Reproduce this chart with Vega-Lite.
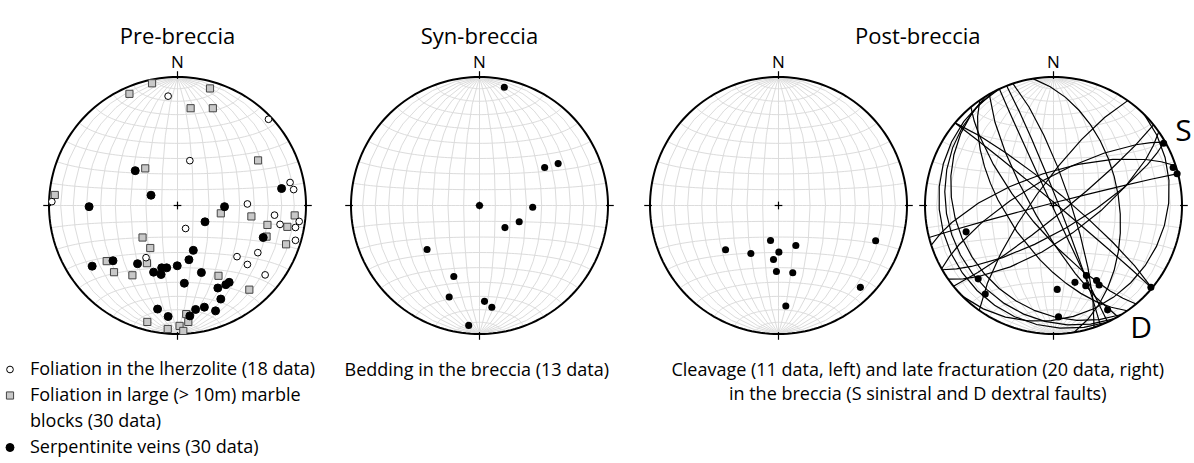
{
  "$schema": "https://vega.github.io/schema/vega-lite/v6.json",
  "padding": {"left": 1, "top": 26, "right": 0, "bottom": 0},
  "config": {
    "view": {"stroke": null},
    "font": "Open Sans",
    "title": {"font": "Open Sans", "fontSize": 22, "fontWeight": "normal", "color": "black", "offset": 5, "anchor": "middle", "frame": "bounds"},
    "text": {"font": "Open Sans", "color": "black"}
  },
  "resolve": {"scale": {"shape": "independent", "fill": "independent", "stroke": "independent", "size": "independent"}, "legend": {"shape": "independent", "fill": "independent", "stroke": "independent", "size": "independent"}},
  "datasets": {
    "net": [
      {"x": 0, "y": 0.985, "x2": 0, "y2": 1.045},
      {"x": 0, "y": -0.985, "x2": 0, "y2": -1.045},
      {"x": 0.985, "y": 0, "x2": 1.045, "y2": 0},
      {"x": -0.985, "y": 0, "x2": -1.045, "y2": 0},
      {"x": -0.03, "y": 0, "x2": 0.03, "y2": 0},
      {"x": 0, "y": -0.03, "x2": 0, "y2": 0.03}
    ],
    "north": [{"label": "N", "x": 0, "y": 1}],
    "pre": [
      {"type": "marble", "x": -0.198, "y": 0.951}, {"type": "marble", "x": -0.374, "y": 0.869}, {"type": "marble", "x": -0.251, "y": 0.289},
      {"type": "marble", "x": -0.955, "y": 0.082}, {"type": "marble", "x": 0.253, "y": 0.911}, {"type": "marble", "x": 0.102, "y": 0.757},
      {"type": "marble", "x": 0.275, "y": 0.757}, {"type": "marble", "x": 0.627, "y": 0.351}, {"type": "marble", "x": -0.272, "y": -0.249},
      {"type": "marble", "x": -0.212, "y": -0.331}, {"type": "marble", "x": -0.238, "y": -0.449}, {"type": "marble", "x": -0.551, "y": -0.433},
      {"type": "marble", "x": -0.494, "y": -0.519}, {"type": "marble", "x": -0.351, "y": -0.543}, {"type": "marble", "x": -0.235, "y": -0.906},
      {"type": "marble", "x": -0.076, "y": -0.961}, {"type": "marble", "x": 0.337, "y": -0.061}, {"type": "marble", "x": 0.575, "y": -0.085},
      {"type": "marble", "x": 0.7, "y": -0.151}, {"type": "marble", "x": 0.855, "y": -0.166}, {"type": "marble", "x": 0.912, "y": -0.077},
      {"type": "marble", "x": 0.693, "y": -0.242}, {"type": "marble", "x": 0.845, "y": -0.302}, {"type": "marble", "x": 0.319, "y": -0.547},
      {"type": "marble", "x": 0.559, "y": -0.655}, {"type": "marble", "x": 0.068, "y": -0.845}, {"type": "marble", "x": 0.084, "y": -0.906},
      {"type": "marble", "x": 0.016, "y": -0.937}, {"type": "marble", "x": 0.045, "y": -0.976},
      {"type": "lherzolite", "x": -0.073, "y": 0.851}, {"type": "lherzolite", "x": 0.708, "y": 0.671}, {"type": "lherzolite", "x": 0.096, "y": 0.349},
      {"type": "lherzolite", "x": 0.876, "y": 0.179}, {"type": "lherzolite", "x": 0.904, "y": 0.124}, {"type": "lherzolite", "x": -0.978, "y": 0.03},
      {"type": "lherzolite", "x": -0.245, "y": -0.406}, {"type": "lherzolite", "x": 0.544, "y": 0.012}, {"type": "lherzolite", "x": 0.063, "y": -0.179},
      {"type": "lherzolite", "x": 0.755, "y": -0.075}, {"type": "lherzolite", "x": 0.798, "y": -0.147}, {"type": "lherzolite", "x": 0.947, "y": -0.124},
      {"type": "lherzolite", "x": 0.918, "y": -0.171}, {"type": "lherzolite", "x": 0.918, "y": -0.271}, {"type": "lherzolite", "x": 0.463, "y": -0.398},
      {"type": "lherzolite", "x": 0.625, "y": -0.367}, {"type": "lherzolite", "x": 0.544, "y": -0.459}, {"type": "lherzolite", "x": 0.682, "y": -0.54},
      {"type": "serpentinite", "x": -0.329, "y": 0.271}, {"type": "serpentinite", "x": -0.206, "y": 0.08}, {"type": "serpentinite", "x": 0.81, "y": 0.132},
      {"type": "serpentinite", "x": -0.688, "y": -0.009}, {"type": "serpentinite", "x": -0.311, "y": -0.453}, {"type": "serpentinite", "x": -0.502, "y": -0.43},
      {"type": "serpentinite", "x": -0.664, "y": -0.472}, {"type": "serpentinite", "x": -0.186, "y": -0.519}, {"type": "serpentinite", "x": -0.128, "y": -0.537},
      {"type": "serpentinite", "x": -0.123, "y": -0.485}, {"type": "serpentinite", "x": -0.084, "y": -0.485}, {"type": "serpentinite", "x": -0.002, "y": -0.469},
      {"type": "serpentinite", "x": -0.155, "y": -0.806}, {"type": "serpentinite", "x": -0.073, "y": -0.864}, {"type": "serpentinite", "x": 0.366, "y": -0.009},
      {"type": "serpentinite", "x": 0.214, "y": -0.127}, {"type": "serpentinite", "x": 0.667, "y": -0.249}, {"type": "serpentinite", "x": 0.123, "y": -0.349},
      {"type": "serpentinite", "x": 0.089, "y": -0.422}, {"type": "serpentinite", "x": 0.186, "y": -0.522}, {"type": "serpentinite", "x": 0.053, "y": -0.605},
      {"type": "serpentinite", "x": 0.402, "y": -0.598}, {"type": "serpentinite", "x": 0.376, "y": -0.616}, {"type": "serpentinite", "x": 0.314, "y": -0.642},
      {"type": "serpentinite", "x": 0.337, "y": -0.728}, {"type": "serpentinite", "x": 0.296, "y": -0.82}, {"type": "serpentinite", "x": 0.209, "y": -0.791},
      {"type": "serpentinite", "x": 0.141, "y": -0.809}, {"type": "serpentinite", "x": 0.096, "y": -0.859}
    ],
    "syn": [
      {"x": 0.193, "y": 0.92}, {"x": 0.507, "y": 0.296}, {"x": 0.612, "y": 0.326}, {"x": 0, "y": 0},
      {"x": 0.414, "y": -0.013}, {"x": 0.309, "y": -0.126}, {"x": 0.198, "y": -0.172}, {"x": -0.408, "y": -0.342},
      {"x": -0.2, "y": -0.553}, {"x": -0.236, "y": -0.712}, {"x": 0.039, "y": -0.746}, {"x": 0.096, "y": -0.792}, {"x": -0.084, "y": -0.933}
    ],
    "cleavage": [
      {"x": -0.412, "y": -0.345}, {"x": -0.215, "y": -0.373}, {"x": -0.062, "y": -0.272}, {"x": 0.003, "y": -0.363},
      {"x": -0.039, "y": -0.42}, {"x": 0.135, "y": -0.311}, {"x": -0.016, "y": -0.513}, {"x": 0.111, "y": -0.523},
      {"x": 0.057, "y": -0.782}, {"x": 0.756, "y": -0.275}, {"x": 0.637, "y": -0.637}
    ],
    "striae": [
      {"x": 0.857, "y": 0.485}, {"x": 0.931, "y": 0.296}, {"x": 0.962, "y": 0.247}, {"x": -0.68, "y": -0.205},
      {"x": -0.586, "y": -0.571}, {"x": -0.531, "y": -0.689}, {"x": 0.029, "y": -0.653}, {"x": 0.039, "y": -0.867},
      {"x": 0.256, "y": -0.545}, {"x": 0.167, "y": -0.598}, {"x": 0.251, "y": -0.624}, {"x": 0.335, "y": -0.584},
      {"x": 0.355, "y": -0.618}, {"x": 0.421, "y": -0.812}, {"x": 0.758, "y": -0.637}
    ],
    "senses": [{"label": "S", "x": 1.012, "y": 0.569}, {"label": "D", "x": 0.682, "y": -0.961}],
    "faults": [
      {"type": "Feature", "properties": {"id": 1}, "geometry": {"type": "LineString", "coordinates": [[90, -40], [1.04, 1.24], [-90, 40]]}},
      {"type": "Feature", "properties": {"id": 2}, "geometry": {"type": "LineString", "coordinates": [[90, -40], [5.24, 6.2], [-90, 40]]}},
      {"type": "Feature", "properties": {"id": 3}, "geometry": {"type": "LineString", "coordinates": [[90, 45], [67.78, -42.79], [-90, -45]]}},
      {"type": "Feature", "properties": {"id": 4}, "geometry": {"type": "LineString", "coordinates": [[90, -65.1], [-0.73, -0.34], [-90, 65.1]]}},
      {"type": "Feature", "properties": {"id": 5}, "geometry": {"type": "LineString", "coordinates": [[90, -68.6], [3.02, 1.18], [-90, 68.6]]}},
      {"type": "Feature", "properties": {"id": 6}, "geometry": {"type": "LineString", "coordinates": [[90, -71.6], [10.25, 3.39], [-90, 71.6]]}},
      {"type": "Feature", "properties": {"id": 7}, "geometry": {"type": "LineString", "coordinates": [[90, -60], [-10.87, -6.21], [-90, 60]]}},
      {"type": "Feature", "properties": {"id": 8}, "geometry": {"type": "LineString", "coordinates": [[90, -55], [-24.12, -15.97], [-90, 55]]}},
      {"type": "Feature", "properties": {"id": 9}, "geometry": {"type": "LineString", "coordinates": [[90, -50], [-12.6, -10.37], [-90, 50]]}},
      {"type": "Feature", "properties": {"id": 10}, "geometry": {"type": "LineString", "coordinates": [[90, -80.8], [41.9, 6.17], [-90, 80.8]]}},
      {"type": "Feature", "properties": {"id": 11}, "geometry": {"type": "LineString", "coordinates": [[90, 14.4], [-0.4, 1.57], [-90, -14.4]]}},
      {"type": "Feature", "properties": {"id": 12}, "geometry": {"type": "LineString", "coordinates": [[90, 18], [-6.83, 20.11], [-90, -18]]}},
      {"type": "Feature", "properties": {"id": 13}, "geometry": {"type": "LineString", "coordinates": [[90, 29.5], [-8.6, 14.81], [-90, -29.5]]}},
      {"type": "Feature", "properties": {"id": 14}, "geometry": {"type": "LineString", "coordinates": [[90, 54.7], [-10.32, 7.24], [-90, -54.7]]}},
      {"type": "Feature", "properties": {"id": 15}, "geometry": {"type": "LineString", "coordinates": [[90, 38.9], [3.98, -4.92], [-90, -38.9]]}},
      {"type": "Feature", "properties": {"id": 16}, "geometry": {"type": "LineString", "coordinates": [[90, -58], [-60.15, -28.46], [-90, 58]]}},
      {"type": "Feature", "properties": {"id": 17}, "geometry": {"type": "LineString", "coordinates": [[90, -62], [-68.56, -26.33], [-90, 62]]}},
      {"type": "Feature", "properties": {"id": 18}, "geometry": {"type": "LineString", "coordinates": [[90, -65], [-75.67, -24.31], [-90, 65]]}},
      {"type": "Feature", "properties": {"id": 19}, "geometry": {"type": "LineString", "coordinates": [[90, 30], [8.3, -14.03], [-90, -30]]}},
      {"type": "Feature", "properties": {"id": 20}, "geometry": {"type": "LineString", "coordinates": [[90, 35], [12.53, -17.22], [-90, -35]]}}
    ]
  },
  "spacing": 28,
  "hconcat": [
    {
      "width": 257, "height": 257,
      "title": {"text": "Pre-breccia", "frame": "group"},
      "layer": [
        {"data": {"graticule": {"step": [10, 10], "extentMinor": [[-180, -90], [180, 90]]}}, "mark": {"type": "geoshape", "filled": false, "stroke": "#dcdcdc", "strokeWidth": 1}, "projection": {"type": "azimuthalEqualArea", "clipAngle": 90}},
        {"data": {"sphere": true}, "mark": {"type": "geoshape", "filled": false, "stroke": "black", "strokeWidth": 2}, "projection": {"type": "azimuthalEqualArea", "clipAngle": 90}},
        {"data": {"name": "net"}, "mark": {"type": "rule", "stroke": "black", "strokeWidth": 1.2},
         "encoding": {"x": {"field": "x", "type": "quantitative", "scale": {"domain": [-1, 1]}, "axis": null}, "y": {"field": "y", "type": "quantitative", "scale": {"domain": [-1, 1]}, "axis": null}, "x2": {"field": "x2"}, "y2": {"field": "y2"}}},
        {"data": {"name": "north"}, "mark": {"type": "text", "dy": -14, "fontSize": 17, "baseline": "middle"},
         "encoding": {"x": {"field": "x", "type": "quantitative", "scale": {"domain": [-1, 1]}, "axis": null}, "y": {"field": "y", "type": "quantitative", "scale": {"domain": [-1, 1]}, "axis": null}, "text": {"field": "label"}}},
        {"data": {"name": "pre"}, "mark": {"type": "point", "opacity": 1, "strokeWidth": 1},
         "encoding": {
           "x": {"field": "x", "type": "quantitative", "scale": {"domain": [-1, 1]}, "axis": null},
           "y": {"field": "y", "type": "quantitative", "scale": {"domain": [-1, 1]}, "axis": null},
           "shape": {"field": "type", "type": "nominal", "scale": {"domain": ["lherzolite", "marble", "blocks", "serpentinite"], "range": ["circle", "square", "square", "circle"]},
             "legend": {"orient": "none", "legendX": -48, "legendY": 283.5, "title": null, "direction": "vertical", "labelFont": "Open Sans", "labelFontSize": 18, "labelColor": "black", "labelLimit": 400, "labelOffset": 11, "rowPadding": 8, "padding": 0, "symbolStrokeWidth": 1,
               "labelExpr": "datum.label == 'lherzolite' ? 'Foliation in the lherzolite (18 data)' : datum.label == 'marble' ? 'Foliation in large (> 10m) marble' : datum.label == 'blocks' ? 'blocks (30 data)' : 'Serpentinite veins (30 data)'"}},
           "fill": {"field": "type", "type": "nominal", "scale": {"domain": ["lherzolite", "marble", "blocks", "serpentinite"], "range": ["white", "#c8c8c8", "transparent", "black"]}},
           "stroke": {"field": "type", "type": "nominal", "scale": {"domain": ["lherzolite", "marble", "blocks", "serpentinite"], "range": ["black", "#444444", "transparent", "black"]}},
           "size": {"field": "type", "type": "nominal", "scale": {"domain": ["lherzolite", "marble", "blocks", "serpentinite"], "range": [45, 64, 1, 50]}}
         }}
      ]
    },
    {
      "title": {"text": "Syn-breccia"},
      "vconcat": [
        {
          "width": 257, "height": 257,
          "title": {"text": "Bedding in the breccia (13 data)", "orient": "bottom", "fontSize": 18, "anchor": "start", "frame": "group", "dx": -6.5, "offset": 22},
          "layer": [
            {"data": {"graticule": {"step": [10, 10], "extentMinor": [[-180, -90], [180, 90]]}}, "mark": {"type": "geoshape", "filled": false, "stroke": "#dcdcdc", "strokeWidth": 1}, "projection": {"type": "azimuthalEqualArea", "clipAngle": 90}},
            {"data": {"sphere": true}, "mark": {"type": "geoshape", "filled": false, "stroke": "black", "strokeWidth": 2}, "projection": {"type": "azimuthalEqualArea", "clipAngle": 90}},
            {"data": {"name": "net"}, "mark": {"type": "rule", "stroke": "black", "strokeWidth": 1.2},
             "encoding": {"x": {"field": "x", "type": "quantitative", "scale": {"domain": [-1, 1]}, "axis": null}, "y": {"field": "y", "type": "quantitative", "scale": {"domain": [-1, 1]}, "axis": null}, "x2": {"field": "x2"}, "y2": {"field": "y2"}}},
            {"data": {"name": "north"}, "mark": {"type": "text", "dy": -14, "fontSize": 17, "baseline": "middle"},
             "encoding": {"x": {"field": "x", "type": "quantitative", "scale": {"domain": [-1, 1]}, "axis": null}, "y": {"field": "y", "type": "quantitative", "scale": {"domain": [-1, 1]}, "axis": null}, "text": {"field": "label"}}},
            {"data": {"name": "syn"}, "mark": {"type": "circle", "size": 50, "color": "black", "opacity": 1},
             "encoding": {"x": {"field": "x", "type": "quantitative", "scale": {"domain": [-1, 1]}, "axis": null}, "y": {"field": "y", "type": "quantitative", "scale": {"domain": [-1, 1]}, "axis": null}}}
          ]
        }
      ]
    },
    {
      "title": {"text": ["Cleavage (11 data, left) and late fracturation (20 data, right)", "in the breccia (S sinistral and D dextral faults)"], "orient": "bottom", "fontSize": 18, "lineHeight": 24, "offset": 18},
      "vconcat": [
        {
          "bounds": "flush",
          "spacing": 18,
          "title": {"text": "Post-breccia"},
          "hconcat": [
            {
              "width": 257, "height": 257,
              "layer": [
                {"data": {"graticule": {"step": [10, 10], "extentMinor": [[-180, -90], [180, 90]]}}, "mark": {"type": "geoshape", "filled": false, "stroke": "#dcdcdc", "strokeWidth": 1}, "projection": {"type": "azimuthalEqualArea", "clipAngle": 90}},
                {"data": {"sphere": true}, "mark": {"type": "geoshape", "filled": false, "stroke": "black", "strokeWidth": 2}, "projection": {"type": "azimuthalEqualArea", "clipAngle": 90}},
                {"data": {"name": "net"}, "mark": {"type": "rule", "stroke": "black", "strokeWidth": 1.2},
                 "encoding": {"x": {"field": "x", "type": "quantitative", "scale": {"domain": [-1, 1]}, "axis": null}, "y": {"field": "y", "type": "quantitative", "scale": {"domain": [-1, 1]}, "axis": null}, "x2": {"field": "x2"}, "y2": {"field": "y2"}}},
                {"data": {"name": "north"}, "mark": {"type": "text", "dy": -14, "fontSize": 17, "baseline": "middle"},
                 "encoding": {"x": {"field": "x", "type": "quantitative", "scale": {"domain": [-1, 1]}, "axis": null}, "y": {"field": "y", "type": "quantitative", "scale": {"domain": [-1, 1]}, "axis": null}, "text": {"field": "label"}}},
                {"data": {"name": "cleavage"}, "mark": {"type": "circle", "size": 50, "color": "black", "opacity": 1},
                 "encoding": {"x": {"field": "x", "type": "quantitative", "scale": {"domain": [-1, 1]}, "axis": null}, "y": {"field": "y", "type": "quantitative", "scale": {"domain": [-1, 1]}, "axis": null}}}
              ]
            },
            {
              "width": 257, "height": 257,
              "layer": [
                {"data": {"graticule": {"step": [10, 10], "extentMinor": [[-180, -90], [180, 90]]}}, "mark": {"type": "geoshape", "filled": false, "stroke": "#dcdcdc", "strokeWidth": 1}, "projection": {"type": "azimuthalEqualArea", "clipAngle": 90}},
                {"data": {"sphere": true}, "mark": {"type": "geoshape", "filled": false, "stroke": "black", "strokeWidth": 2}, "projection": {"type": "azimuthalEqualArea", "clipAngle": 90}},
                {"data": {"name": "faults"}, "mark": {"type": "geoshape", "filled": false, "stroke": "black", "strokeWidth": 1.2}, "projection": {"type": "azimuthalEqualArea", "clipAngle": 90}},
                {"data": {"name": "net"}, "mark": {"type": "rule", "stroke": "black", "strokeWidth": 1.2},
                 "encoding": {"x": {"field": "x", "type": "quantitative", "scale": {"domain": [-1, 1]}, "axis": null}, "y": {"field": "y", "type": "quantitative", "scale": {"domain": [-1, 1]}, "axis": null}, "x2": {"field": "x2"}, "y2": {"field": "y2"}}},
                {"data": {"name": "north"}, "mark": {"type": "text", "dy": -14, "fontSize": 17, "baseline": "middle"},
                 "encoding": {"x": {"field": "x", "type": "quantitative", "scale": {"domain": [-1, 1]}, "axis": null}, "y": {"field": "y", "type": "quantitative", "scale": {"domain": [-1, 1]}, "axis": null}, "text": {"field": "label"}}},
                {"data": {"name": "striae"}, "mark": {"type": "circle", "size": 50, "color": "black", "opacity": 1},
                 "encoding": {"x": {"field": "x", "type": "quantitative", "scale": {"domain": [-1, 1]}, "axis": null}, "y": {"field": "y", "type": "quantitative", "scale": {"domain": [-1, 1]}, "axis": null}}},
                {"data": {"name": "senses"}, "mark": {"type": "text", "fontSize": 30, "baseline": "middle", "align": "center"},
                 "encoding": {"x": {"field": "x", "type": "quantitative", "scale": {"domain": [-1, 1]}, "axis": null}, "y": {"field": "y", "type": "quantitative", "scale": {"domain": [-1, 1]}, "axis": null}, "text": {"field": "label"}}}
              ]
            }
          ]
        }
      ]
    }
  ]
}
